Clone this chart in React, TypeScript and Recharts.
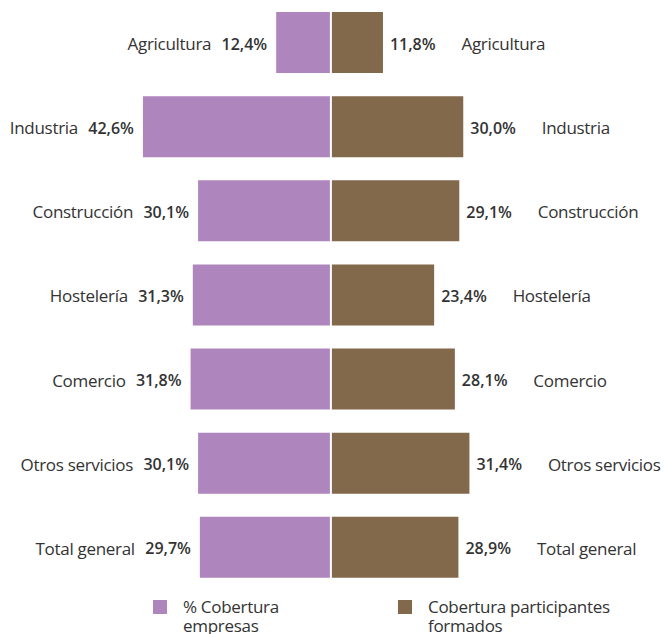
import React from "react";
import { BarChart, Bar, XAxis, YAxis, LabelList, ReferenceLine } from "recharts";

const sectores = [
  "Agricultura",
  "Industria",
  "Construcción",
  "Hostelería",
  "Comercio",
  "Otros servicios",
  "Total general",
];
const empresas = [12.4, 42.6, 30.1, 31.3, 31.8, 30.1, 29.7];
const participantes = [11.8, 30.0, 29.1, 23.4, 28.1, 31.4, 28.9];
const seriesNames = ["% Cobertura\nempresas", "Cobertura participantes\nformados"];

const PURPLE = "#AF85BE";
const BROWN = "#83694B";
const TEXT = "#333333";
const FONT = "'Open Sans', Lato, sans-serif";

const data = sectores.map((s, i) => ({
  name: s,
  empresas: -empresas[i],
  participantes: participantes[i],
}));

const fmt = (v: number) => Math.abs(v).toFixed(1).replace(".", ",") + "%";

const LeftLabel = (props: any) => {
  const { x, y, width, height, value, index } = props;
  const end = Math.min(x, x + width);
  const cy = y + height / 2 + 1;
  return (
    <g fontFamily={FONT} fill={TEXT}>
      <text x={end - 9} y={cy} textAnchor="end" dominantBaseline="central" fontSize={16} fontWeight={600}>
        {fmt(value)}
      </text>
      <text x={end - 65} y={cy} textAnchor="end" dominantBaseline="central" fontSize={17} letterSpacing={-0.3}>
        {sectores[index]}
      </text>
    </g>
  );
};

const RightLabel = (props: any) => {
  const { x, y, width, height, value, index } = props;
  const end = Math.max(x, x + width);
  const cy = y + height / 2 + 1;
  return (
    <g fontFamily={FONT} fill={TEXT}>
      <text x={end + 7} y={cy} textAnchor="start" dominantBaseline="central" fontSize={16} fontWeight={600}>
        {fmt(value)}
      </text>
      <text x={end + 78.5} y={cy} textAnchor="start" dominantBaseline="central" fontSize={17} letterSpacing={-0.3}>
        {sectores[index]}
      </text>
    </g>
  );
};

const LegendItem = ({ color, label, left }: { color: string; label: string; left: number }) => (
  <div style={{ position: "absolute", left, top: 600, display: "flex", alignItems: "flex-start" }}>
    <div style={{ width: 14, height: 14, background: color, marginRight: 16 }} />
    <div
      style={{
        fontFamily: FONT,
        fontSize: 17,
        letterSpacing: -0.3,
        color: TEXT,
        lineHeight: "19px",
        marginTop: -3,
        whiteSpace: "pre",
      }}
    >
      {label}
    </div>
  </div>
);

export default function App() {
  return (
    <div style={{ position: "relative", width: 664, height: 634, background: "#fff", overflow: "hidden" }}>
      <style>{"body{margin:0}"}</style>
      <BarChart
        width={664}
        height={589}
        data={data}
        layout="vertical"
        stackOffset="sign"
        barSize={61}
        margin={{ top: 0, right: 0, bottom: 0, left: 0 }}
      >
        <XAxis type="number" domain={[-75, 75.5]} hide allowDataOverflow />
        <YAxis type="category" dataKey="name" hide />
        <Bar dataKey="empresas" stackId="a" fill={PURPLE} isAnimationActive={false}>
          <LabelList dataKey="empresas" content={LeftLabel} />
        </Bar>
        <Bar dataKey="participantes" stackId="a" fill={BROWN} isAnimationActive={false}>
          <LabelList dataKey="participantes" content={RightLabel} />
        </Bar>
        <ReferenceLine x={0} stroke="#ffffff" strokeWidth={2} />
      </BarChart>
      <LegendItem color={PURPLE} label={seriesNames[0]} left={153} />
      <LegendItem color={BROWN} label={seriesNames[1]} left={398} />
    </div>
  );
}
